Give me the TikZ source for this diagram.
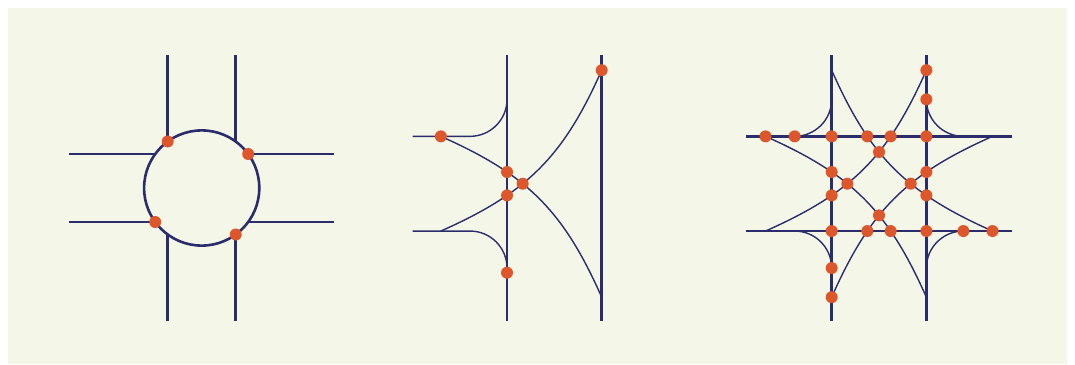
\documentclass[tikz,border=0pt]{standalone}
\usepackage{xcolor}
\usepackage{tikz}
\usetikzlibrary{intersections}
\definecolor{paperbg}{RGB}{244,247,232}
\definecolor{roadnavy}{RGB}{42,44,108}
\definecolor{hitred}{RGB}{221,86,44}

\begin{document}
\begin{tikzpicture}[
  x=1pt, y=-1pt,
  road/.style={draw=roadnavy, line width=2.6pt},
  lane/.style={draw=roadnavy, line width=1.4pt},
  hit/.style={circle, fill=hitred, inner sep=0pt, minimum size=12pt}
]
\useasboundingbox (0,0) rectangle (1075,364);
\fill[paperbg] (8,8) rectangle (1067,364);

\begin{scope}[shift={(201.7,188)}]
\draw[road] (0,0) circle[radius=57.6];
\foreach \s in {-1,1} {
  \draw[road] (-34,\s*133) -- (-34,\s*46.5);
  \draw[road] (34,\s*133) -- (34,\s*46.5);
  \draw[road] (\s*132.7,-34) -- (\s*46.5,-34);
  \draw[road] (\s*132.7,34) -- (\s*46.5,34);
}
\node[hit] (r1) at (-34,-46.5) {};
\node[hit] (r2) at (46.5,-34) {};
\node[hit] (r3) at (-46.5,34) {};
\node[hit] (r4) at (34,46.5) {};
\end{scope}

\begin{scope}[shift={(554.35,183.7)}]
\draw[road, name path=tvl] (-47.35,-128.7) -- (-47.35,137.3);
\draw[road] (47.35,-128.7) -- (47.35,137.3);
\draw[lane] (-141.65,-47.35) -- (-84.35,-47.35) arc[start angle=90, end angle=0, radius=37];
\draw[lane] (-141.65,47.35) -- (-84.35,47.35) arc[start angle=-90, end angle=0, radius=37];
\draw[lane, name path=ta] (-113.5,-47.35) .. controls (-27,-9) and (9,27) .. (47.35,113.5);
\draw[lane, name path=tb] (-113.5,47.35) .. controls (-27,9) and (9,-27) .. (47.35,-113.5);
\foreach \pa/\pb [count=\i] in {ta/tvl, tb/tvl, ta/tb}
  \path[name intersections/.expanded={of=\pa\space and \pb, by=tx\i}] node[hit] (t\i) at (tx\i) {};
\node[hit] (t4) at (-113.5,-47.35) {};
\node[hit] (t5) at (47.35,-113.5) {};
\node[hit] (t6) at (-47.35,89) {};
\end{scope}

\begin{scope}[shift={(879,183.7)}]
\draw[road, name path=kvl] (-47.35,-128.7) -- (-47.35,137.3);
\draw[road, name path=kvr] (47.35,-128.7) -- (47.35,137.3);
\draw[road, name path=kht] (-133,-47.35) -- (132.7,-47.35);
\draw[road, name path=khb] (-133,47.35) -- (132.7,47.35);
\draw[lane] (-84.35,-47.35) arc[start angle=90, end angle=0, radius=37];
\draw[lane] (47.35,-84.35) arc[start angle=180, end angle=90, radius=37];
\draw[lane] (84.35,47.35) arc[start angle=270, end angle=180, radius=37];
\draw[lane] (-47.35,84.35) arc[start angle=0, end angle=-90, radius=37];
\draw[lane, name path=ka] (-113.5,-47.35) .. controls (-27,-9) and (9,27) .. (47.35,113.5);
\draw[lane, name path=kb] (-113.5,47.35) .. controls (-27,9) and (9,-27) .. (47.35,-113.5);
\draw[lane, name path=kc] (113.5,47.35) .. controls (27,9) and (-9,-27) .. (-47.35,-113.5);
\draw[lane, name path=kd] (113.5,-47.35) .. controls (27,-9) and (-9,27) .. (-47.35,113.5);
\foreach \px/\py [count=\i] in {-47.35/-47.35, 47.35/-47.35, -47.35/47.35, 47.35/47.35,
    -84.35/-47.35, 47.35/-84.35, 84.35/47.35, -47.35/84.35,
    -113.5/-47.35, 47.35/-113.5, 113.5/47.35, -47.35/113.5}
  \node[hit] (m\i) at (\px,\py) {};
\foreach \pa/\pb [count=\i] in {ka/kvl, ka/khb, kb/kvl, kb/kht, kc/kvr, kc/kht,
    kd/kvr, kd/khb, ka/kb, kc/kd, kb/kc, ka/kd}
  \path[name intersections/.expanded={of=\pa\space and \pb, by=kx\i}] node[hit] (k\i) at (kx\i) {};
\end{scope}
\end{tikzpicture}
\end{document}
